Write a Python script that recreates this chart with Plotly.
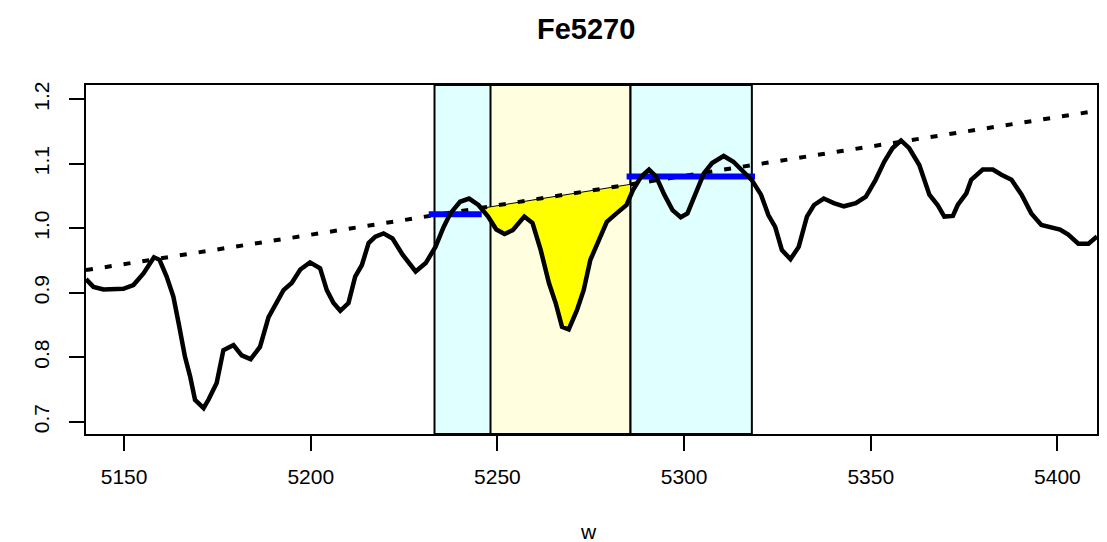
import numpy as np
import plotly.graph_objects as go

# ---------------- data ----------------
wave = [5139.8, 5141.8, 5144.5, 5149.8, 5152.5, 5155.2, 5158.0, 5159.5, 5161.4, 5163.2,
        5164.6, 5166.3, 5167.7, 5169.0, 5171.3, 5172.6, 5174.8, 5176.6, 5179.3, 5181.5,
        5183.9, 5186.4, 5188.7, 5190.9, 5192.7, 5194.9, 5197.2, 5199.8, 5202.5, 5204.3,
        5206.1, 5207.9, 5210.1, 5211.9, 5213.7, 5215.5, 5217.3, 5219.5, 5221.9, 5224.6,
        5228.1, 5230.8, 5233.4, 5235.6, 5237.4, 5240.0, 5242.4, 5244.9, 5247.5, 5249.7,
        5251.9, 5254.1, 5257.2, 5259.4, 5261.6, 5263.8, 5265.6, 5267.3, 5269.1, 5271.3,
        5273.1, 5274.9, 5277.1, 5279.3, 5281.9, 5284.6, 5286.3, 5288.5, 5290.6, 5292.5,
        5294.7, 5296.9, 5299.1, 5300.9, 5303.1, 5305.3, 5307.5, 5310.6, 5313.2, 5315.9,
        5318.1, 5320.6, 5322.6, 5324.4, 5326.2, 5328.5, 5330.7, 5332.9, 5334.8, 5337.4,
        5340.1, 5342.8, 5346.0, 5348.7, 5351.3, 5353.6, 5355.8, 5358.1, 5360.3, 5363.0,
        5365.7, 5367.9, 5369.7, 5372.0, 5373.3, 5375.6, 5376.9, 5380.0, 5382.7, 5385.0,
        5387.7, 5390.4, 5393.0, 5395.7, 5398.9, 5400.7, 5402.9, 5405.6, 5408.3, 5410.6]

flux = [0.921, 0.909, 0.905, 0.906, 0.912, 0.930, 0.955, 0.951, 0.925, 0.894,
        0.853, 0.801, 0.770, 0.734, 0.721, 0.734, 0.760, 0.811, 0.819, 0.803,
        0.797, 0.816, 0.862, 0.884, 0.904, 0.915, 0.936, 0.947, 0.938, 0.904,
        0.884, 0.872, 0.884, 0.925, 0.943, 0.977, 0.987, 0.992, 0.984, 0.959,
        0.933, 0.946, 0.971, 1.002, 1.023, 1.041, 1.046, 1.036, 1.018, 0.998,
        0.991, 0.997, 1.018, 1.008, 0.966, 0.915, 0.884, 0.847, 0.843, 0.873,
        0.904, 0.951, 0.982, 1.010, 1.023, 1.036, 1.059, 1.080, 1.091, 1.080,
        1.052, 1.028, 1.017, 1.023, 1.054, 1.085, 1.101, 1.112, 1.103, 1.088,
        1.075, 1.052, 1.020, 1.002, 0.966, 0.952, 0.971, 1.018, 1.036, 1.046,
        1.039, 1.034, 1.039, 1.049, 1.075, 1.103, 1.124, 1.136, 1.124, 1.098,
        1.052, 1.036, 1.018, 1.019, 1.036, 1.054, 1.075, 1.091, 1.091, 1.083,
        1.075, 1.052, 1.023, 1.005, 1.000, 0.998, 0.990, 0.976, 0.976, 0.987]

# pseudo-continuum (dotted line)
cont_wave = [5139.8, 5410.6]
cont_flux = [0.935, 1.182]

# Lick Fe5270 band definitions
blue_band = [5233.15, 5248.15]
feature_band = [5245.65, 5285.65]
red_band = [5285.65, 5318.15]

# mean continuum levels in side bands (blue bars)
blue_bar_wave = [5231.6, 5245.8]
blue_bar_flux = [1.0217, 1.0217]
red_bar_wave = [5284.6, 5319.0]
red_bar_flux = [1.0803, 1.0803]

x_ticks = [5150, 5200, 5250, 5300, 5350, 5400]
y_ticks = [0.7, 0.8, 0.9, 1.0, 1.1, 1.2]
x_range = [5139.8, 5410.6]
y_range = [0.681, 1.222]

# ---------------- figure ----------------
wave_a = np.array(wave)
flux_a = np.array(flux)

def cont_at(x):
    return np.interp(x, cont_wave, cont_flux)

# absorption area polygon inside the feature band
inside = (wave_a > feature_band[0]) & (wave_a < feature_band[1])
px = np.concatenate([[feature_band[0]], wave_a[inside], [feature_band[1]]])
py_spec = np.interp(px, wave_a, flux_a)
py_cont = cont_at(px)
poly_x = np.concatenate([px, px[::-1], [px[0]]])
poly_y = np.concatenate([py_spec, py_cont[::-1], [py_spec[0]]])

fig = go.Figure()

fig.add_trace(go.Scatter(x=poly_x, y=poly_y, mode="lines", fill="toself",
                         fillcolor="#FFFF00", line=dict(color="black", width=1),
                         hoverinfo="skip", showlegend=False))

fig.add_trace(go.Scatter(x=cont_wave, y=cont_flux, mode="lines",
                         line=dict(color="black", width=4, dash="7px,12px"),
                         showlegend=False))

fig.add_trace(go.Scatter(x=blue_bar_wave, y=blue_bar_flux, mode="lines",
                         line=dict(color="#0000FF", width=6), showlegend=False))
fig.add_trace(go.Scatter(x=red_bar_wave, y=red_bar_flux, mode="lines",
                         line=dict(color="#0000FF", width=6), showlegend=False))

fig.add_trace(go.Scatter(x=wave, y=flux, mode="lines",
                         line=dict(color="black", width=4.5, shape="linear"),
                         showlegend=False))

shapes = []
for band, col in [(feature_band, "#FFFFE0"), (blue_band, "#E0FFFF"), (red_band, "#E0FFFF")]:
    shapes.append(dict(type="rect", xref="x", yref="paper", x0=band[0], x1=band[1],
                       y0=0, y1=1, fillcolor=col, line=dict(color="black", width=2),
                       layer="below"))

font_family = "Liberation Sans, Arial, sans-serif"

fig.update_layout(
    width=1107, height=542,
    margin=dict(l=86, r=10, t=85, b=108, autoexpand=False),
    paper_bgcolor="white", plot_bgcolor="white",
    shapes=shapes,
    showlegend=False,
    font=dict(family=font_family, color="black", size=21),
    annotations=[
        dict(text="<b>Fe5270</b>", xref="paper", yref="paper", x=0.495, y=1.16,
             xanchor="center", yanchor="middle", showarrow=False,
             font=dict(size=29, family=font_family, color="black")),
        dict(text="w", xref="paper", yref="paper", x=0.497, y=-0.28,
             xanchor="center", yanchor="middle", showarrow=False,
             font=dict(size=21, family=font_family, color="black")),
    ],
)

fig.update_xaxes(range=x_range, tickvals=x_ticks, ticks="outside", ticklen=15,
                 tickwidth=2, tickcolor="black", showline=True, linecolor="black",
                 linewidth=2, mirror=True, showgrid=False, zeroline=False,
                 ticklabelstandoff=8, tickfont=dict(size=21), automargin=False)
fig.update_yaxes(range=y_range, tickvals=y_ticks, tickformat=".1f", ticks="outside",
                 ticklen=15, tickwidth=2, tickcolor="black", showline=True,
                 linecolor="black", linewidth=2, mirror=True, showgrid=False,
                 zeroline=False, tickangle=-90, ticklabelstandoff=12,
                 tickfont=dict(size=21), automargin=False)

fig.write_html("out.html", config={"displayModeBar": False},
               post_script="document.body.style.margin='0';document.body.style.overflow='hidden';")
